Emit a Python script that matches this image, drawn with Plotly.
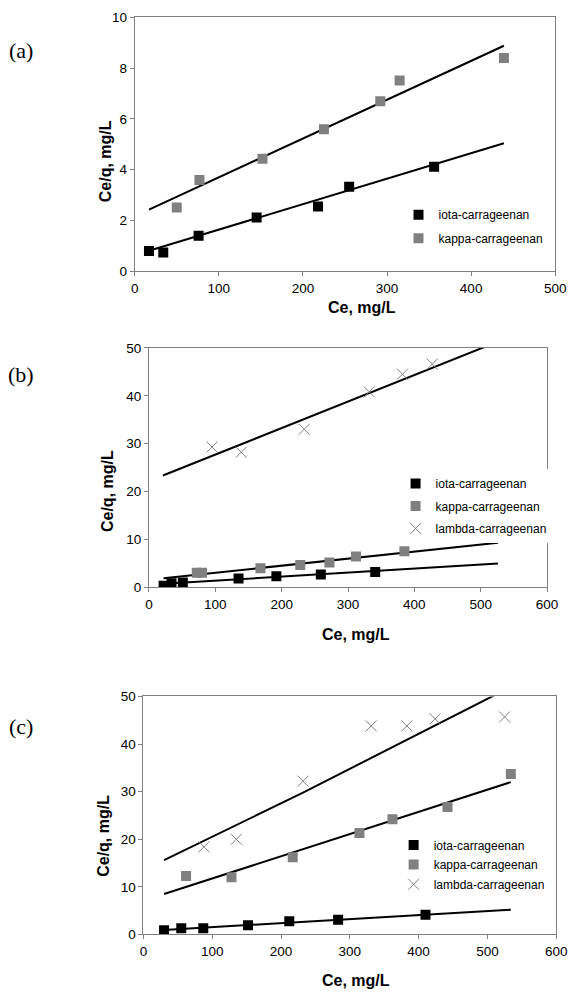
import plotly.graph_objects as go

# ---- panel (a) ----
a_iota_x = [17, 34, 76, 145, 218, 255, 356]
a_iota_y = [0.80, 0.74, 1.40, 2.12, 2.55, 3.33, 4.12]
a_kappa_x = [50, 77, 152, 225, 292, 315, 439]
a_kappa_y = [2.51, 3.59, 4.43, 5.59, 6.69, 7.51, 8.40]
a_iota_fit_x = [17, 439]
a_iota_fit_y = [0.81, 5.04]
a_kappa_fit_x = [17, 439]
a_kappa_fit_y = [2.43, 8.88]

# ---- panel (b) ----
b_iota_x = [22, 34, 51, 135, 192, 259, 341]
b_iota_y = [0.33, 0.89, 1.03, 1.85, 2.36, 2.68, 3.23]
b_kappa_x = [72, 80, 168, 228, 272, 312, 385]
b_kappa_y = [3.09, 3.09, 3.98, 4.67, 5.22, 6.46, 7.55]
b_lambda_x = [95, 139, 234, 332, 382, 427]
b_lambda_y = [29.3, 28.2, 33.0, 40.8, 44.5, 46.6]
b_iota_fit_x = [22, 526]
b_iota_fit_y = [0.76, 5.01]
b_kappa_fit_x = [22, 526]
b_kappa_fit_y = [1.92, 9.34]
b_lambda_fit_x = [21, 526]
b_lambda_fit_y = [23.35, 51.3]

# ---- panel (c) ----
c_iota_x = [30, 55, 87, 152, 212, 283, 410]
c_iota_y = [0.91, 1.32, 1.32, 1.93, 2.75, 3.10, 4.13]
c_kappa_x = [62, 128, 217, 314, 362, 442, 534]
c_kappa_y = [12.3, 12.0, 16.2, 21.3, 24.2, 26.8, 33.7]
c_lambda_x = [88, 135, 232, 331, 383, 424, 525]
c_lambda_y = [18.4, 20.0, 32.2, 43.8, 43.8, 45.3, 45.7]
c_iota_fit_x = [30, 534]
c_iota_fit_y = [0.95, 5.2]
c_kappa_fit_x = [30, 534]
c_kappa_fit_y = [8.5, 32.0]
c_lambda_fit_x = [30, 232, 534]
c_lambda_fit_y = [15.6, 29.8, 52.0]

GRAY = '#808080'
names = ['iota-carrageenan', 'kappa-carrageenan', 'lambda-carrageenan']
panel_labels = ['(a)', '(b)', '(c)']
x_title = 'Ce, mg/L'
y_title = 'Ce/q, mg/L'

# the page body keeps its default 8px margin, so the figure is sized to fit inside 583x1000
PAD = 8
W, H = 583 - 2 * PAD, 1000 - 2 * PAD


def fx(px):
    return (px - PAD) / W


def fy(py):
    return 1 - (py - PAD) / H


fig = go.Figure()


def add_panel(k, series, fits):
    xa = 'x' if k == 1 else 'x%d' % k
    ya = 'y' if k == 1 else 'y%d' % k
    lg = 'legend' if k == 1 else 'legend%d' % k
    for x, y in fits:
        fig.add_trace(go.Scatter(x=x, y=y, mode='lines', xaxis=xa, yaxis=ya,
                                 line=dict(color='black', width=2),
                                 showlegend=False, hoverinfo='skip'))
    for i, (x, y) in enumerate(series):
        if i == 0:
            mk = dict(symbol='square', size=10, color='black')
        elif i == 1:
            mk = dict(symbol='square', size=10, color=GRAY)
        else:
            mk = dict(symbol='x-thin', size=11, line=dict(color=GRAY, width=1))
        fig.add_trace(go.Scatter(x=x, y=y, mode='markers', xaxis=xa, yaxis=ya,
                                 marker=mk, name=names[i], legend=lg,
                                 legendgroup='%d_%d' % (k, i)))


add_panel(1, [(a_iota_x, a_iota_y), (a_kappa_x, a_kappa_y)],
          [(a_iota_fit_x, a_iota_fit_y), (a_kappa_fit_x, a_kappa_fit_y)])
add_panel(2, [(b_iota_x, b_iota_y), (b_kappa_x, b_kappa_y), (b_lambda_x, b_lambda_y)],
          [(b_iota_fit_x, b_iota_fit_y), (b_kappa_fit_x, b_kappa_fit_y),
           (b_lambda_fit_x, b_lambda_fit_y)])
add_panel(3, [(c_iota_x, c_iota_y), (c_kappa_x, c_kappa_y), (c_lambda_x, c_lambda_y)],
          [(c_iota_fit_x, c_iota_fit_y), (c_kappa_fit_x, c_kappa_fit_y),
           (c_lambda_fit_x, c_lambda_fit_y)])

tickfont = dict(family='Liberation Sans, Arial', size=13.5, color='black')
titlefont = dict(family='Liberation Sans, Arial', size=16, color='black', weight='bold')


def axis_style(rng, dtick, dom, anchor):
    return dict(range=rng, dtick=dtick, domain=dom, anchor=anchor,
                showgrid=False, zeroline=False, showline=True, mirror=True,
                linecolor=GRAY, linewidth=1, ticks='outside', ticklen=4,
                tickcolor=GRAY, tickfont=tickfont)


# plot areas in page pixels (left, right, top, bottom)
boxes = [(134, 566, 10.3, 268.3), (148.7, 557.6, 346, 589.3), (143, 567, 700, 941.7)]
xranges = [[0, 500], [0, 600], [0, 600]]
yranges = [[0, 10], [0, 50], [0, 50]]
ydticks = [2, 10, 10]
# the titles sit off-centre in the original, so they are placed by hand
xtitle_pos = [(367, 305), (361, 637), (361, 988)]
ytitle_pos = [(104, 156), (106, 491), (102, 842)]
label_pos = [(17, 44), (17, 373), (17, 731)]

layout = dict(width=W, height=H, margin=dict(l=0, r=0, t=0, b=0),
              paper_bgcolor='white', plot_bgcolor='white', showlegend=True)
for k in range(3):
    l, r, t, b = boxes[k]
    sx = '' if k == 0 else str(k + 1)
    layout['xaxis' + sx] = axis_style(xranges[k], 100, [fx(l), fx(r)], 'y' + sx)
    layout['yaxis' + sx] = axis_style(yranges[k], ydticks[k], [fy(b), fy(t)], 'x' + sx)

legfont = dict(family='Liberation Sans, Arial', size=12, color='black')
# (left, top, background, gap between entries)
leg_pos = [(405, 196, 'rgba(0,0,0,0)', 4.5), (402, 469, 'white', 3.5),
           (400, 836, 'rgba(0,0,0,0)', 0.7)]
for k, (lx, ly, bg, gap) in enumerate(leg_pos):
    key = 'legend' if k == 0 else 'legend%d' % (k + 1)
    layout[key] = dict(x=fx(lx), y=fy(ly), xanchor='left', yanchor='top',
                       font=legfont, bgcolor=bg, tracegroupgap=gap,
                       traceorder='grouped', itemwidth=30)

fig.update_layout(**layout)

for k in range(3):
    tx, ty = xtitle_pos[k]
    fig.add_annotation(text=x_title, x=fx(tx), y=fy(ty), xref='paper', yref='paper',
                       xanchor='center', yanchor='middle', showarrow=False, font=titlefont)
    tx, ty = ytitle_pos[k]
    fig.add_annotation(text=y_title, x=fx(tx), y=fy(ty), xref='paper', yref='paper',
                       xanchor='center', yanchor='middle', showarrow=False,
                       textangle=-90, font=titlefont)
    lx, ly = label_pos[k]
    fig.add_annotation(text=panel_labels[k], x=fx(lx), y=fy(ly), xref='paper', yref='paper',
                       xanchor='center', yanchor='middle', showarrow=False,
                       font=dict(family='Liberation Serif, Times New Roman', size=22,
                                 color='black'))

fig.write_html("out.html")
